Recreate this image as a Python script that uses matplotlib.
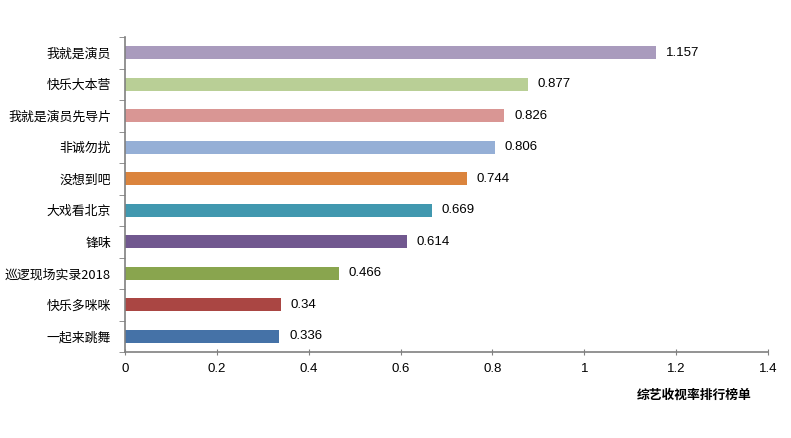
import numpy as np
import matplotlib
matplotlib.use('Agg')
import matplotlib.pyplot as plt

plt.rcParams['font.family'] = ['Noto Sans CJK SC', 'DejaVu Sans']

shows = ['一起来跳舞', '快乐多咪咪', '巡逻现场实录2018', '锋味', '大戏看北京',
         '没想到吧', '非诚勿扰', '我就是演员先导片', '快乐大本营', '我就是演员']
ratings = [0.336, 0.34, 0.466, 0.614, 0.669, 0.744, 0.806, 0.826, 0.877, 1.157]
rating_labels = ['0.336', '0.34', '0.466', '0.614', '0.669',
                 '0.744', '0.806', '0.826', '0.877', '1.157']
colors = ['#4572A7', '#AA4643', '#89A54E', '#71588F', '#4198AF',
          '#DB843D', '#95AFD6', '#D99694', '#B9CF96', '#A99BBD']

fig = plt.figure(figsize=(7.91, 4.38), dpi=100)
ax = fig.add_axes([125 / 791, 86 / 438, 643 / 791, 315 / 438])

y = np.arange(len(shows))
ax.barh(y, ratings, height=0.42, color=colors)

for yi, v, s in zip(y, ratings, rating_labels):
    ax.annotate(s, (v, yi), xytext=(7, 0), textcoords='offset points',
                va='center', ha='left', fontsize=9.5, family='Liberation Sans')

ax.set_xlim(0, 1.4)
ax.set_ylim(-0.5, len(shows) - 0.5)
ax.set_xticks(np.arange(0, 1.41, 0.2))
ax.set_xticklabels(['0', '0.2', '0.4', '0.6', '0.8', '1', '1.2', '1.4'],
                   family='Liberation Sans', fontsize=9.5)

# category labels centered on bars, ticks between categories
ax.set_yticks(y)
ax.set_yticklabels(shows, fontsize=9.3)
ax.tick_params(axis='y', length=0, pad=10)
ax.set_yticks(np.arange(-0.5, len(shows), 1), minor=True)
ax.tick_params(axis='y', which='minor', length=4, color='#808080', direction='out')
ax.tick_params(axis='x', length=4, color='#808080', direction='inout', pad=6)

for side in ['top', 'right']:
    ax.spines[side].set_visible(False)
for side in ['left', 'bottom']:
    ax.spines[side].set_color('#808080')
    ax.spines[side].set_linewidth(1.2)

fig.text(694 / 791, 1 - 395 / 438, '综艺收视率排行榜单', ha='center', va='center',
         fontsize=9.2, fontweight='bold')

fig.savefig('out.png', dpi=100)
